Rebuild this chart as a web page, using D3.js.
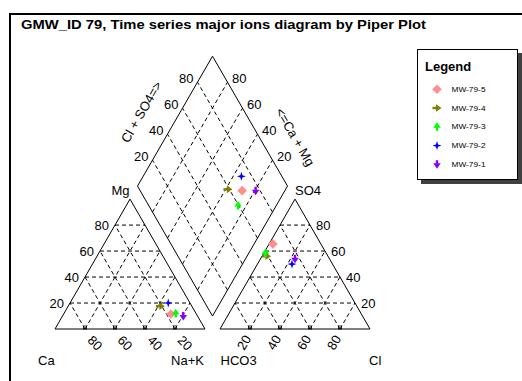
<!DOCTYPE html>
<html><head><meta charset="utf-8">
<script src="https://cdn.jsdelivr.net/npm/d3@7"></script>
<style>
html,body{margin:0;padding:0;background:#fff;}
svg{display:block;font-family:"Liberation Sans",Arial,sans-serif;}
</style></head>
<body><svg id="c" width="522" height="381"></svg>
<script>
// ---- data (percent meq/L) ----
const samples = ["MW-79-5","MW-79-4","MW-79-3","MW-79-2","MW-79-1"];
const colors  = ["#ff8f8f","#808000","#00ff00","#0000ff","#8a00ff"];
const Ca   = [17.0, 21.0, 13.5, 14.5,  9.5];
const Mg   = [11.5, 17.5, 12.0, 20.0, 10.0];
const NaK  = [71.5, 61.5, 74.5, 65.5, 80.5];
const HCO3 = [32.0, 41.0, 40.5, 27.0, 23.0];
const SO4  = [65.5, 56.0, 58.5, 50.0, 54.0];
const Cl   = [ 2.5,  3.0,  1.0, 23.0, 23.0];
const gridTicks = [20, 40, 60, 80];
const title = "GMW_ID 79, Time series major ions diagram by Piper Plot";

// ---- layout ----
const L = 150, H = L * Math.sqrt(3) / 2;
const baseY = 329, leftX0 = 55, gap = 15, rightX0 = leftX0 + L + gap;
const dbx = leftX0 + L + gap / 2, dby = baseY - gap * Math.sqrt(3) / 2;

const sx = d3.scaleLinear().domain([0, 100]).range([0, L]);
const sy = d3.scaleLinear().domain([0, 100]).range([0, H]);

const cat = (ca, mg, na) => [leftX0 + sx(na) + sx(mg) / 2, baseY - sy(mg)];
const ani = (hc, so, cl) => [rightX0 + sx(cl) + sx(so) / 2, baseY - sy(so)];
const dia = (s, c) => [dbx + (sx(s) - sx(c)) / 2, dby - sy(s) - sy(c)];

const svg = d3.select("#c");
svg.append("rect").attr("width", 522).attr("height", 381).attr("fill", "#fff");

// frame
svg.append("path").attr("d", "M10,381V14H522").attr("fill", "none")
  .attr("stroke", "#000").attr("stroke-width", 2);

svg.append("text").attr("x", 21).attr("y", 29).attr("font-size", 13)
  .attr("font-weight", "bold").attr("textLength", 405)
  .attr("lengthAdjust", "spacingAndGlyphs").text(title);

const line = d3.line();
const g = svg.append("g");

function seg(p, q, dashed) {
  g.append("path").attr("d", line([p, q])).attr("fill", "none")
    .attr("stroke", "#000").attr("stroke-width", 1)
    .attr("stroke-dasharray", dashed ? "4,3" : null);
}

// grids
gridTicks.forEach(v => {
  const w = 100 - v;
  seg(cat(w, v, 0), cat(0, v, w), true);
  seg(cat(v, 0, w), cat(v, w, 0), true);
  seg(cat(w, 0, v), cat(0, w, v), true);
  seg(ani(w, v, 0), ani(0, v, w), true);
  seg(ani(v, 0, w), ani(v, w, 0), true);
  seg(ani(w, 0, v), ani(0, w, v), true);
  seg(dia(v, 0), dia(v, 100), true);
  seg(dia(0, v), dia(100, v), true);
});
// outlines
g.append("path").attr("d", line([cat(100,0,0), cat(0,0,100), cat(0,100,0)]) + "Z")
  .attr("fill", "none").attr("stroke", "#000");
g.append("path").attr("d", line([ani(100,0,0), ani(0,0,100), ani(0,100,0)]) + "Z")
  .attr("fill", "none").attr("stroke", "#000");
g.append("path").attr("d", line([dia(0,0), dia(0,100), dia(100,100), dia(100,0)]) + "Z")
  .attr("fill", "none").attr("stroke", "#000");

// base ticks
gridTicks.forEach(v => {
  [cat(v, 0, 100 - v), ani(100 - v, 0, v)].forEach(p => {
    g.append("rect").attr("x", p[0] - 1.5).attr("y", p[1] - 3).attr("width", 3).attr("height", 3)
      .attr("fill", "none").attr("stroke", "#000").attr("stroke-width", 0.8);
  });
});

const fs = 13;
const lbl = svg.append("g").attr("font-size", fs).attr("fill", "#000");
function txt(x, y, s, anchor, rot) {
  const t = lbl.append("text").attr("text-anchor", anchor || "start")
    .attr("dominant-baseline", "central").text(s);
  if (rot) t.attr("transform", `translate(${x},${y}) rotate(${rot})`);
  else t.attr("x", x).attr("y", y);
  return t;
}

gridTicks.forEach(v => {
  // cation left edge (Mg)
  const pl = cat(100 - v, v, 0);
  txt(pl[0] - 6, pl[1], v, "end");
  // anion right edge (SO4)
  const pr = ani(0, v, 100 - v);
  txt(pr[0] + 6, pr[1], v, "start");
  // cation base (Ca)
  const pb = cat(v, 0, 100 - v);
  txt(pb[0] + 10, baseY + 14, v, "middle", 45);
  // anion base (Cl)
  const pa = ani(100 - v, 0, v);
  txt(pa[0] - 6, baseY + 13.5, v, "middle", -60);
  // diamond upper-left (Cl+SO4)
  const d1 = dia(v, 100);
  txt(d1[0] - 4, d1[1] - 4, v, "end");
  // diamond upper-right (Ca+Mg)
  const d2 = dia(100, v);
  txt(d2[0] + 4.5, d2[1] - 4, v, "start");
});

txt(38, 360, "Ca", "start");
txt(204, 360, "Na+K", "end");
txt(220.5, 360, "HCO3", "start");
txt(369, 360, "Cl", "start");
txt(129.5, 190, "Mg", "end");
txt(295, 190, "SO4", "start");
txt(141.5, 112, "Cl + SO4=>", "middle", -60);
txt(295, 137, "<=Ca + Mg", "middle", 60);

// markers
const shapes = [
  "M0,-4.8L4.8,0L0,4.8L-4.8,0Z",
  "M4.5,0L-1,-3.8L-1,-1.2L-4.5,-1.2L-4.5,1.2L-1,1.2L-1,3.8Z",
  "M0,-4.5L3.8,1L1.2,1L1.2,4L-1.2,4L-1.2,1L-3.8,1Z",
  "M0,-4.5L1.1,-1.1L4.5,0L1.1,1.1L0,4.5L-1.1,1.1L-4.5,0L-1.1,-1.1Z",
  "M0,4.5L3.8,-1L1.2,-1L1.2,-4L-1.2,-4L-1.2,-1L-3.8,-1Z"
];
const idx = d3.range(samples.length);
const pts = svg.append("g");
function drawSet(fn) {
  pts.selectAll(null).data(idx).enter().append("path")
    .attr("d", i => shapes[i]).attr("fill", i => colors[i])
    .attr("transform", i => { const p = fn(i); return `translate(${p[0]},${p[1]})`; });
}
drawSet(i => cat(Ca[i], Mg[i], NaK[i]));
drawSet(i => ani(HCO3[i], SO4[i], Cl[i]));
drawSet(i => dia(SO4[i] + Cl[i], Ca[i] + Mg[i]));

// legend
const lg = svg.append("g");
lg.append("rect").attr("x", 421).attr("y", 53).attr("width", 101).attr("height", 131).attr("fill", "#404040");
lg.append("rect").attr("x", 417.5).attr("y", 49.5).attr("width", 100).attr("height", 130)
  .attr("fill", "#fff").attr("stroke", "#000");
lg.append("text").attr("x", 425).attr("y", 71).attr("font-size", 13).attr("font-weight", "bold").text("Legend");
const ly = d3.scalePoint().domain(samples).range([89.3, 164.3]);
samples.forEach((s, i) => {
  lg.append("path").attr("d", shapes[i]).attr("fill", colors[i])
    .attr("transform", `translate(437,${ly(s)})`);
  lg.append("text").attr("x", 451.5).attr("y", ly(s)).attr("dominant-baseline", "central")
    .attr("font-size", 7).attr("textLength", 34).attr("lengthAdjust", "spacingAndGlyphs").text(s);
});
</script></body></html>
